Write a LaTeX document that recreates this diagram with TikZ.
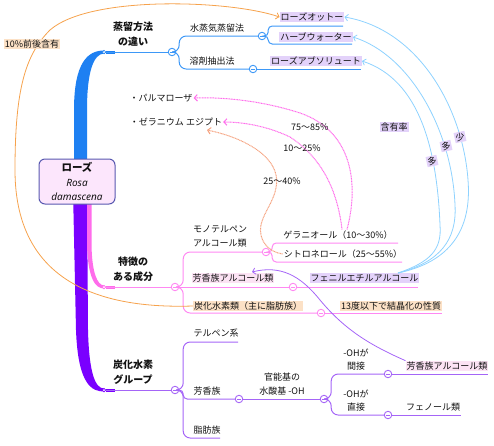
\documentclass[tikz,border=0pt]{standalone}
\usepackage{fontspec}
\setmainfont{Noto Sans CJK JP}
\newfontfamily\latinit{Noto Sans}
\usetikzlibrary{arrows.meta}
\definecolor{mblue}{HTML}{1E80F2}
\definecolor{lblue}{HTML}{3D98F7}
\definecolor{mpink}{HTML}{FF6CEB}
\definecolor{lpink}{HTML}{FF88F2}
\definecolor{mpurp}{HTML}{7A00FF}
\definecolor{lpurp}{HTML}{A565F7}
\definecolor{sky}{HTML}{8ED2FF}
\definecolor{orng}{HTML}{F6A24C}
\definecolor{salmon}{HTML}{F5A27F}
\definecolor{hlav}{HTML}{E3D2FA}
\definecolor{hpeach}{HTML}{FCE1C6}
\definecolor{hpink}{HTML}{FCE3F4}
\definecolor{rosef}{HTML}{FCE6FC}
\definecolor{roseb}{HTML}{5858B0}
\definecolor{txt}{HTML}{111111}
\begin{document}
\begin{tikzpicture}[x=1pt,y=-1pt,
  every node/.style={inner sep=1pt, text=txt, font=\fontsize{9}{11}\selectfont},
  hl/.style={fill=#1},
  hd/.style={align=center, font=\bfseries\fontsize{10}{15}\selectfont},
  two/.style={align=#1, font=\fontsize{9}{13.5}\selectfont},
  tog/.style={circle, draw=#1, fill=white, line width=0.9pt, minimum size=7.5pt, inner sep=0pt,
    path picture={\draw[#1, line width=0.6pt] ([xshift=-2pt]path picture bounding box.center) -- ([xshift=2pt]path picture bounding box.center);}},
  jn/.style={circle, draw=#1, fill=white, line width=0.7pt, minimum size=3.5pt, inner sep=0pt},
  br/.style={draw=#1, line width=1pt, rounded corners=7pt},
  xlink/.style={draw=#1, line width=0.8pt, -{Straight Barb[length=3pt,width=6.5pt]}},
  dotln/.style={line width=1pt, dash pattern=on 1pt off 0.6pt}]
\useasboundingbox (0,0) rectangle (494,445);

% ---- main tapered branches
\fill[mpurp] (73,190) -- (76,330) .. controls (78,385) and (92,391.5) .. (104,391.5) -- (104,388.5) .. controls (95,388.5) and (89,372) .. (88,330) -- (87,190) -- cycle;
\fill[mpink] (87,195) -- (87,245) .. controls (88,278) and (95,288.5) .. (104,288.5) -- (104,285.5) .. controls (97,285) and (92,272) .. (91.5,245) -- (91.5,195) -- cycle;
\fill[mblue] (74,175) -- (74,110) .. controls (74,62) and (88,50.5) .. (104,50.5) -- (104,53.5) .. controls (94,54) and (87,70) .. (87,110) -- (87,175) -- cycle;

% ---- central node
\node[draw=roseb, fill=rosef, line width=1pt, rounded corners=6pt, minimum width=76pt, minimum height=45pt,
  align=center, inner sep=0pt, font=\fontsize{10}{14.5}\selectfont] (rose) at (77,181.5)
  {{\bfseries\fontsize{10.5}{14.5}\selectfont ローズ}\\{\latinit\itshape Rosa}\\{\latinit\itshape damascena}};

% ---- headings
\node[hd] (h1) at (133,34.5) {蒸留方法\\の違い};
\node[hd] (h2) at (133,269.5) {特徴の\\ある成分};
\node[hd] (h3) at (133,372) {炭化水素\\グループ};

% ---- blue subtree
\node[jn=mblue] (bj) at (104,52) {};
\node[tog=lblue] (b1) at (172,52) {};
\node[tog=lblue] (b2) at (262,36) {};
\node[tog=lblue] (b3) at (253,69) {};
\coordinate (eRO) at (343,26);
\coordinate (eHW) at (352,44);
\coordinate (eAB) at (361,69);
\draw[mblue, line width=3pt] (bj.east) -- ++(9,0);
\draw[br=lblue] (bj.east) -- (b1.west);
\draw[br=lblue] (b1.east) -- ++(3,0) |- (b2.west);
\draw[br=lblue] (b1.east) -- ++(3,0) |- (b3.west);
\draw[br=lblue, rounded corners=4pt] (b2.east) -- ++(2,0) |- (eRO);
\draw[br=lblue, rounded corners=4pt] (b2.east) -- ++(2,0) |- (eHW);
\draw[br=lblue] (b3.east) -- (eAB);
\node (sui) at (217,28) {水蒸気蒸留法};
\node (yo) at (212,61) {溶剤抽出法};
\node[hl=hlav] (ro) at (312,17) {ローズオットー};
\node[hl=hlav] (hw) at (316,37) {ハーブウォーター};
\node[hl=hlav] (ab) at (316,61) {ローズアブソリュート};

% ---- pink subtree
\node[jn=mpink] (pj) at (104,287) {};
\node[tog=lpink] (p1) at (175,287) {};
\node[tog=lpink] (p2) at (266,252) {};
\node[tog=lpink] (p3) at (293,287) {};
\node[tog=lpink] (p4) at (321,313) {};
\coordinate (eGE) at (398,243);
\coordinate (eCI) at (402,262);
\coordinate (ePH) at (418,287);
\coordinate (eCR) at (442,313);
\draw[mpink, line width=3pt] (pj.east) -- ++(9,0);
\draw[br=lpink] (pj.east) -- (p1.west);
\draw[br=lpink] (p1.east) -- ++(4,0) |- (p2.west);
\draw[br=lpink] (p1.east) -- (p3.west);
\draw[br=lpink] (p1.east) -- ++(4,0) |- (p4.west);
\draw[br=lpink, rounded corners=4pt] (p2.east) -- ++(2,0) |- (eGE);
\draw[br=lpink, rounded corners=4pt] (p2.east) -- ++(2,0) |- (eCI);
\draw[br=lpink] (p3.east) -- (ePH);
\draw[br=lpink] (p4.east) -- (eCR);
\node[two=left] (mono) at (220,236.5) {モノテルペン\\アルコール類};
\node[hl=hpink] (ar1) at (233,278) {芳香族アルコール類};
\node[hl=hpeach] (hc) at (248,306) {炭化水素類（主に脂肪族）};
\node (ger) at (338,235) {ゲラニオール（10〜30\%）};
\node (cit) at (343,254) {シトロネロール（25〜55\%）};
\node[hl=hlav] (phe) at (364.5,278) {フェニルエチルアルコール};
\node[hl=hpeach] (cry) at (391,306) {13度以下で結晶化の性質};

% ---- purple subtree
\node[jn=mpurp] (uj) at (104,390) {};
\node[tog=lpurp] (u1) at (175,390) {};
\node[tog=lpurp] (u2) at (239,399) {};
\node[tog=lpurp] (u3) at (324,399) {};
\node[tog=lpurp] (u4) at (388,374) {};
\node[tog=lpurp] (u5) at (388,415) {};
\coordinate (eTE) at (238,342);
\coordinate (eAL) at (220,438);
\coordinate (eAR) at (488,374);
\coordinate (ePN) at (461,415);
\draw[mpurp, line width=3pt] (uj.east) -- ++(9,0);
\draw[br=lpurp] (uj.east) -- (u1.west);
\draw[br=lpurp] (u1.east) -- ++(4,0) |- (eTE);
\draw[br=lpurp, rounded corners=4pt] (u1.east) -- ++(4,0) |- (u2.west);
\draw[br=lpurp] (u1.east) -- ++(4,0) |- (eAL);
\draw[br=lpurp] (u2.east) -- (u3.west);
\draw[br=lpurp] (u3.east) -- ++(3,0) |- (u4.west);
\draw[br=lpurp] (u3.east) -- ++(3,0) |- (u5.west);
\draw[br=lpurp] (u4.east) -- (eAR);
\draw[br=lpurp] (u5.east) -- (ePN);
\node (ter) at (216,333) {テルペン系};
\node (aro) at (207,391) {芳香族};
\node (ali) at (207,430) {脂肪族};
\node[two=center] (fn) at (282,384) {官能基の\\水酸基 -OH};
\node[two=center] (oh1) at (356,359.5) {-OHが\\間接};
\node[two=center] (oh2) at (356,400.5) {-OHが\\直接};
\node[hl=hpink] (ar2) at (447,366) {芳香族アルコール類};
\node (phn) at (433,407) {フェノール類};

% ---- free labels
\node (pm) at (161,98) {・パルマローザ};
\node (gz) at (176,122) {・ゼラニウム エジプト};
\coordinate (gzb) at (207,130);
\coordinate (ar1t) at (252,272);
\coordinate (phs) at (398,273);

% ---- cross links
\draw[xlink=orng] (hc.west) .. controls (70,310) and (15,260) .. (15,170)
  .. controls (15,90) and (25,55) .. (50,30) .. controls (90,-5) and (230,0) .. (ro.west);
\draw[xlink=salmon, dotln] (cit.west) .. controls (268,252) and (258,240) .. (261,225)
  .. controls (264,210) and (280,195) .. (276,175) .. controls (272,155) and (245,138) .. (gzb);
\draw[xlink=mpink, dotln] ([xshift=4pt]ger.north) .. controls (338,195) and (325,160) .. (290,137)
  .. controls (265,125) and (240,122) .. (gz.east);
\draw[xlink=mpink, dotln] ([xshift=9pt]ger.north) .. controls (360,180) and (350,130) .. (300,113)
  .. controls (260,100) and (220,97) .. (pm.east);
\draw[xlink=sky] (phs) .. controls (450,262) and (472,230) .. (468,180)
  .. controls (463,110) and (420,30) .. (ro.east);
\draw[xlink=sky] (phs) .. controls (440,262) and (457,240) .. (455,205)
  .. controls (452,130) and (410,55) .. (hw.east);
\draw[xlink=sky] (phs) .. controls (430,262) and (442,250) .. (440,225)
  .. controls (437,150) and (420,80) .. (ab.east);
\draw[xlink=lpurp] (ar2.north west) .. controls (370,345) and (345,330) .. (320,300)
  .. controls (300,275) and (280,265) .. (ar1t);

% ---- link labels
\node[hl=hpeach] (pct) at (32,44) {10\%前後含有};
\node (p75) at (310,127) {75〜85％};
\node (p10) at (302,148) {10〜25\%};
\node (p25) at (282,181) {25〜40\%};
\node[hl=hlav] (rate) at (394,127) {含有率};
\node[hl=hlav, rotate=12] (s1) at (460,137) {少};
\node[hl=hlav, rotate=12] (s2) at (446,146) {多};
\node[hl=hlav, rotate=12] (s3) at (432,161) {多};
\end{tikzpicture}
\end{document}
